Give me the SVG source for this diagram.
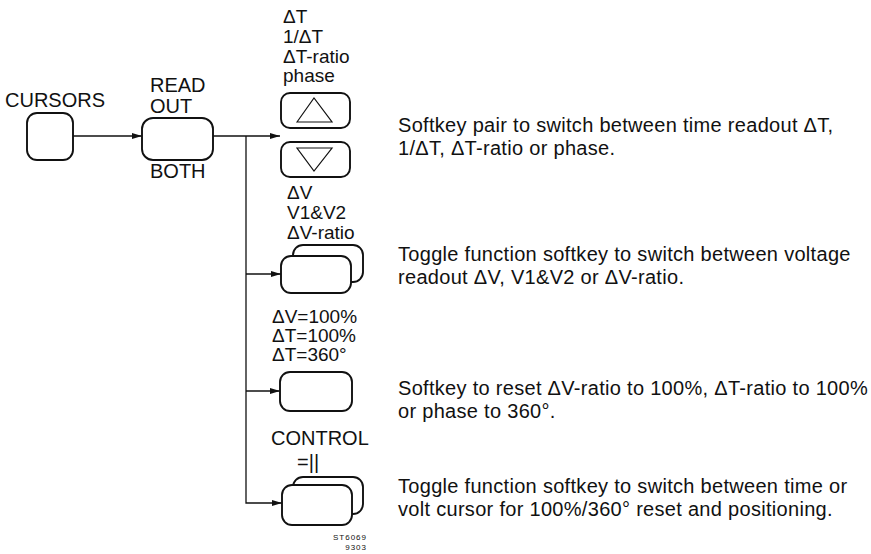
<svg xmlns="http://www.w3.org/2000/svg" width="871" height="554" viewBox="0 0 871 554">
<defs>
<style>
.lbl{font-family:"Liberation Sans",Arial,sans-serif;font-size:19px;fill:#111}
.big{font-size:20px}
.tiny{font-size:8px;letter-spacing:1px}
.desc{font-family:"Liberation Sans",Arial,sans-serif;font-size:20px;letter-spacing:0.3px;fill:#111}
.key{fill:#fff;stroke:#111;stroke-width:1.9}
.ln{fill:none;stroke:#111;stroke-width:1.3}
.tri{fill:none;stroke:#111;stroke-width:1.2}
</style>
<marker id="ah" viewBox="0 0 10 6" refX="10" refY="3" markerWidth="10" markerHeight="6" markerUnits="userSpaceOnUse" orient="auto"><path d="M0,0 L10,3 L0,6 z" fill="#111"/></marker>
</defs>
<rect width="871" height="554" fill="#fff"/>
<g id="connectors">
<line class="ln" x1="73" y1="136" x2="142" y2="136" marker-end="url(#ah)"/>
<line class="ln" x1="213" y1="136" x2="280" y2="136" marker-end="url(#ah)"/>
<polyline class="ln" points="246,136 246,503 282,503" marker-end="url(#ah)"/>
<line class="ln" x1="246" y1="274" x2="281" y2="274" marker-end="url(#ah)"/>
<line class="ln" x1="246" y1="391" x2="280" y2="391" marker-end="url(#ah)"/>
</g>
<g id="cursors">
<text class="lbl big" x="5" y="107">CURSORS</text>
<rect class="key" x="27" y="113" width="46" height="47" rx="10"/>
</g>
<g id="readout">
<text class="lbl big" x="150" y="92">READ</text>
<text class="lbl big" x="150" y="113">OUT</text>
<rect class="key" x="142" y="118" width="71" height="42" rx="11"/>
<text class="lbl big" x="150" y="178">BOTH</text>
</g>
<g id="time-pair">
<text class="lbl" x="283" y="23">ΔT</text>
<text class="lbl" x="283" y="43">1/ΔT</text>
<text class="lbl" x="283" y="63">ΔT-ratio</text>
<text class="lbl" x="283" y="82">phase</text>
<rect class="key" x="281" y="93" width="69" height="35" rx="9"/>
<polygon class="tri" points="297,122 314,98 332,122"/>
<rect class="key" x="281" y="142" width="69" height="35" rx="9"/>
<polygon class="tri" points="297,148 332,148 314,171"/>
</g>
<g id="volt-toggle">
<text class="lbl" x="287" y="199">ΔV</text>
<text class="lbl" x="287" y="219">V1&amp;V2</text>
<text class="lbl" x="287" y="239">ΔV-ratio</text>
<rect class="key" x="293" y="245" width="70" height="37" rx="10"/>
<rect class="key" x="281" y="256" width="70" height="37" rx="10"/>
</g>
<g id="reset">
<text class="lbl" x="272" y="323">ΔV=100%</text>
<text class="lbl" x="272" y="342">ΔT=100%</text>
<text class="lbl" x="272" y="361">ΔT=360°</text>
<rect class="key" x="280" y="372" width="72" height="39" rx="10"/>
</g>
<g id="control">
<text class="lbl big" x="271" y="445">CONTROL</text>
<text class="lbl big" x="297" y="469">=||</text>
<rect class="key" x="293" y="477" width="70" height="37" rx="10"/>
<rect class="key" x="282" y="485" width="70" height="40" rx="10"/>
<text class="lbl tiny" x="367" y="540" text-anchor="end">ST6069</text>
<text class="lbl tiny" x="367" y="550" text-anchor="end">9303</text>
</g>
<g id="descriptions">
<text class="desc" x="398" y="132">Softkey pair to switch between time readout ΔT,</text>
<text class="desc" x="398" y="155">1/ΔT, ΔT-ratio or phase.</text>
<text class="desc" x="398" y="261">Toggle function softkey to switch between voltage</text>
<text class="desc" x="398" y="284">readout ΔV, V1&amp;V2 or ΔV-ratio.</text>
<text class="desc" x="398" y="395">Softkey to reset ΔV-ratio to 100%, ΔT-ratio to 100%</text>
<text class="desc" x="398" y="418">or phase to 360°.</text>
<text class="desc" x="398" y="493">Toggle function softkey to switch between time or</text>
<text class="desc" x="398" y="516">volt cursor for 100%/360° reset and positioning.</text>
</g>
</svg>
